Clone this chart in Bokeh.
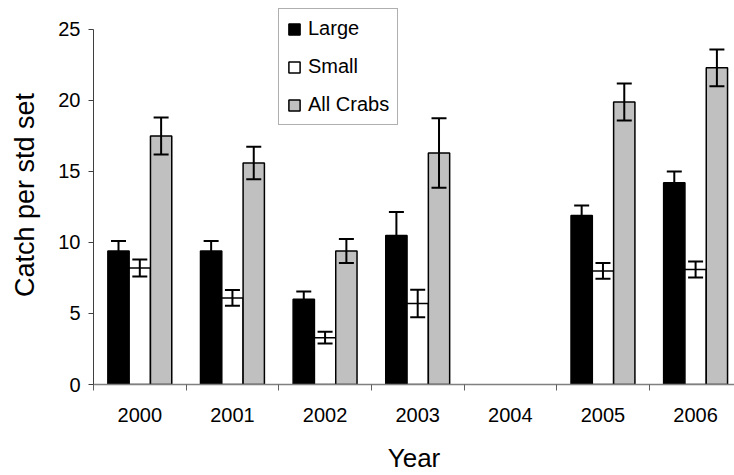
from bokeh.plotting import figure
from bokeh.models import Range1d, FixedTicker, Legend, LegendItem, Whisker, TeeHead, ColumnDataSource
from bokeh.embed import file_html
from bokeh.resources import INLINE

years = ["2000", "2001", "2002", "2003", "2004", "2005", "2006"]
large = [9.4, 9.4, 6.0, 10.5, None, 11.9, 14.2]
large_err = [0.7, 0.7, 0.55, 1.65, None, 0.7, 0.8]
small = [8.2, 6.1, 3.3, 5.7, None, 8.0, 8.1]
small_err = [0.6, 0.55, 0.42, 0.97, None, 0.56, 0.56]
all_crabs = [17.5, 15.6, 9.4, 16.3, None, 19.9, 22.3]
all_err = [1.3, 1.15, 0.85, 2.45, None, 1.3, 1.3]
y_ticks = [0, 5, 10, 15, 20, 25]

FONT = "Liberation Sans"
BAR_W = 0.23

p = figure(width=734, height=475, output_backend="svg", toolbar_location=None,
           x_range=Range1d(0, 6.92), y_range=Range1d(0, 26.69),
           min_border_left=93, min_border_right=0, min_border_top=5, min_border_bottom=91)
p.outline_line_color = None
p.xgrid.visible = False
p.ygrid.visible = False
p.background_fill_color = "white"


def make_source(vals, errs, offset):
    xs, tops, ups, lows = [], [], [], []
    for i, (v, e) in enumerate(zip(vals, errs)):
        if v is None:
            continue
        xs.append(i + 0.5 + offset)
        tops.append(v)
        ups.append(v + e)
        lows.append(v - e)
    return ColumnDataSource(dict(x=xs, top=tops, upper=ups, lower=lows))


series = [("Large", large, large_err, -BAR_W, "black"),
          ("Small", small, small_err, 0.0, "white"),
          ("All Crabs", all_crabs, all_err, BAR_W, "#C0C0C0")]

items = []
for name, vals, errs, off, color in series:
    src = make_source(vals, errs, off)
    r = p.vbar(x="x", top="top", bottom=0, width=BAR_W, source=src,
               fill_color=color, line_color="black", line_width=1.5)
    w = Whisker(source=src, base="x", upper="upper", lower="lower",
                line_color="black", line_width=2,
                upper_head=TeeHead(size=15, line_color="black", line_width=2),
                lower_head=TeeHead(size=15, line_color="black", line_width=2),
                level="annotation")
    p.add_layout(w)
    items.append(LegendItem(label=name, renderers=[r]))

legend = Legend(items=items, location=(185, 259), orientation="vertical",
                glyph_width=14, glyph_height=14, label_standoff=7,
                label_text_font=FONT, label_text_font_size="20px",
                label_text_color="black", spacing=15, padding=8, margin=0,
                border_line_color="#606060", border_line_width=1,
                background_fill_color="white", background_fill_alpha=1.0)
p.add_layout(legend, "center")

# x axis
p.xaxis.ticker = FixedTicker(ticks=[i + 0.5 for i in range(len(years))],
                             minor_ticks=list(range(len(years) + 1)))
p.xaxis.major_label_overrides = {i + 0.5: y for i, y in enumerate(years)}
p.xaxis.major_tick_out = 6
p.xaxis.major_tick_in = 0
p.xaxis.major_tick_line_color = None
p.xaxis.minor_tick_out = 6
p.xaxis.minor_tick_in = 0
p.xaxis.minor_tick_line_color = "#606060"
p.xaxis.axis_line_color = "#808080"
p.xaxis.axis_line_width = 1.5
p.xaxis.major_label_text_font = FONT
p.xaxis.major_label_text_font_size = "20px"
p.xaxis.major_label_text_color = "black"
p.xaxis.major_label_standoff = 17
p.xaxis.axis_label = "Year"
p.xaxis.axis_label_text_font = FONT
p.xaxis.axis_label_text_font_size = "26px"
p.xaxis.axis_label_text_font_style = "normal"
p.xaxis.axis_label_text_color = "black"
p.xaxis.axis_label_standoff = 18

# y axis
p.yaxis.bounds = (y_ticks[0], y_ticks[-1])
p.yaxis.ticker = FixedTicker(ticks=y_ticks, minor_ticks=[])
p.yaxis.major_tick_out = 5
p.yaxis.major_tick_in = 0
p.yaxis.major_tick_line_color = "#404040"
p.yaxis.axis_line_color = "#404040"
p.yaxis.axis_line_width = 1
p.yaxis.major_label_text_font = FONT
p.yaxis.major_label_text_font_size = "20px"
p.yaxis.major_label_text_color = "black"
p.yaxis.major_label_standoff = 8
p.yaxis.axis_label = "Catch per std set"
p.yaxis.axis_label_text_font = FONT
p.yaxis.axis_label_text_font_size = "27px"
p.yaxis.axis_label_text_font_style = "normal"
p.yaxis.axis_label_text_color = "black"
p.yaxis.axis_label_standoff = 15

open("out.html", "w").write(file_html(p, INLINE))
